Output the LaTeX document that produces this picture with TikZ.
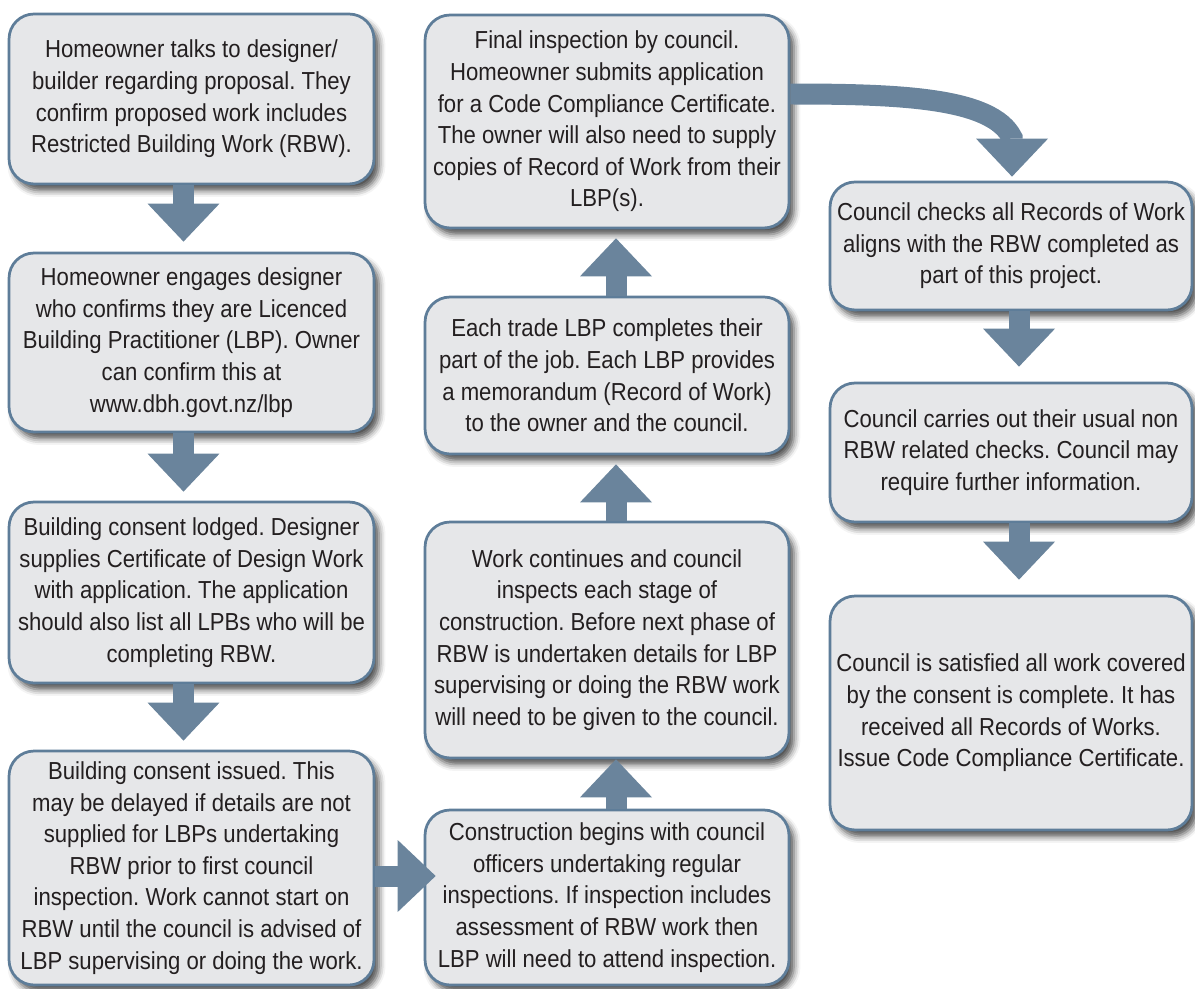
\documentclass[tikz,border=0pt]{standalone}
\usepackage{fontspec}
\setmainfont[FakeStretch=0.9]{Liberation Sans}
\usepackage{xcolor}
\usepackage{tikz}
\usetikzlibrary{positioning,arrows.meta,shadows.blur}
\frenchspacing
\definecolor{boxfill}{HTML}{E6E7E9}
\definecolor{boxline}{HTML}{5E7D99}
\definecolor{flowblue}{HTML}{6A849C}
\definecolor{inktext}{HTML}{231F20}
\tikzset{
  % --- process boxes ---------------------------------------------------------
  stage/.style={rectangle,rounded corners=0.5cm,draw=boxline,fill=boxfill,
                line width=0.055cm,align=center,text=inktext,inner sep=2pt,
                font=\fontsize{14}{18}\selectfont,
                blur shadow={shadow xshift=0.1cm,shadow yshift=-0.13cm,
                             shadow blur radius=0.13cm,shadow opacity=70}},
  % --- block arrows ----------------------------------------------------------
  flow/.style={draw=flowblue,line width=0.42cm,line cap=butt,
               -{Triangle[length=0.76cm,width=1.44cm,line width=0pt,fill=flowblue]}},
}
\begin{document}
\begin{tikzpicture}[x=0.02cm, y=-0.02cm]
  \useasboundingbox (0,0) rectangle (1195,989);

  % left column
  \node[stage,minimum width=7.3cm,minimum height=3.4cm] (b1) at (191.5,99)
    {Homeowner talks to designer/\\ builder regarding proposal. They\\
     confirm proposed work includes\\ Restricted Building Work (RBW).};
  \node[stage,minimum width=7.3cm,minimum height=3.58cm] (b2) at (191.5,342.5)
    {Homeowner engages designer\\ who confirms they are Licenced\\
     Building Practitioner (LBP). Owner\\ can confirm this at\\ www.dbh.govt.nz/lbp};
  \node[stage,minimum width=7.3cm,minimum height=3.62cm] (b3) at (191.5,592.5)
    {Building consent lodged. Designer\\ supplies Certificate of Design Work\\
     with application. The application\\ should also list all LPBs who will be\\
     completing RBW.};
  \node[stage,minimum width=7.3cm,minimum height=4.68cm] (b4) at (191.5,868)
    {Building consent issued. This\\ may be delayed if details are not\\
     supplied for LBPs undertaking\\ RBW prior to first council\\
     inspection. Work cannot start on\\ RBW until the council is advised of\\
     LBP supervising or doing the work.};

  % middle column
  \node[stage,minimum width=7.28cm,minimum height=4.26cm] (c1) at (607,121.5)
    {Final inspection by council.\\ Homeowner submits application\\
     for a Code Compliance Certificate.\\ The owner will also need to supply\\
     copies of Record of Work from their\\ LBP(s).};
  \node[stage,minimum width=7.28cm,minimum height=3.14cm] (c2) at (607,375.5)
    {Each trade LBP completes their\\ part of the job. Each LBP provides\\
     a memorandum (Record of Work)\\ to the owner and the council.};
  \node[stage,minimum width=7.28cm,minimum height=4.72cm] (c3) at (607,640)
    {Work continues and council\\ inspects each stage of\\
     construction. Before next phase of\\ RBW is undertaken details for LBP\\
     supervising or doing the RBW work\\ will need to be given to the council.};
  \node[stage,minimum width=7.28cm,minimum height=3.5cm] (c4) at (607,897.5)
    {Construction begins with council\\ officers undertaking regular\\
     inspections. If inspection includes\\ assessment of RBW work then\\
     LBP will need to attend inspection.};

  % right column
  \node[stage,minimum width=7.24cm,minimum height=2.56cm] (d1) at (1011,246)
    {Council checks all Records of Work\\ aligns with the RBW completed as\\
     part of this project.};
  \node[stage,minimum width=7.24cm,minimum height=2.78cm] (d2) at (1011,452.5)
    {Council carries out their usual non\\ RBW related checks. Council may\\
     require further information.};
  \node[stage,minimum width=7.24cm,minimum height=4.68cm] (d3) at (1011,713)
    {Council is satisfied all work covered\\ by the consent is complete. It has\\
     received all Records of Works.\\ Issue Code Compliance Certificate.};

  % arrows
  \draw[flow,shorten >=0.2cm]  ([xshift=-0.16cm]b1.south) -- ([xshift=-0.16cm]b2.north);
  \draw[flow,shorten >=0.18cm] ([xshift=-0.16cm]b2.south) -- ([xshift=-0.16cm]b3.north);
  \draw[flow,shorten >=0.18cm] ([xshift=-0.16cm]b3.south) -- ([xshift=-0.16cm]b4.north);
  \draw[flow,shorten >=-0.24cm] ([yshift=-0.16cm]b4.east) -- ([yshift=-0.16cm]b4.east -| c4.west);
  \draw[flow] ([xshift=0.18cm]c4.north) -- ([xshift=0.18cm]c3.south);
  \draw[flow,shorten >=0.18cm] ([xshift=0.18cm]c3.north) -- ([xshift=0.18cm]c2.south);
  \draw[flow,shorten >=0.18cm] ([xshift=0.18cm]c2.north) -- ([xshift=0.18cm]c1.south);
  \draw[flow,shorten >=0.08cm] ([yshift=0.55cm]c1.east)
        .. controls +(110,0) and +(-20,-40) .. ([xshift=0.02cm,yshift=0.86cm]d1.north)
        -- ([xshift=0.02cm]d1.north);
  \draw[flow,shorten >=0.3cm]  ([xshift=0.16cm]d1.south) -- ([xshift=0.16cm]d2.north);
  \draw[flow,shorten >=0.3cm]  ([xshift=0.16cm]d2.south) -- ([xshift=0.16cm]d3.north);
\end{tikzpicture}
\end{document}
